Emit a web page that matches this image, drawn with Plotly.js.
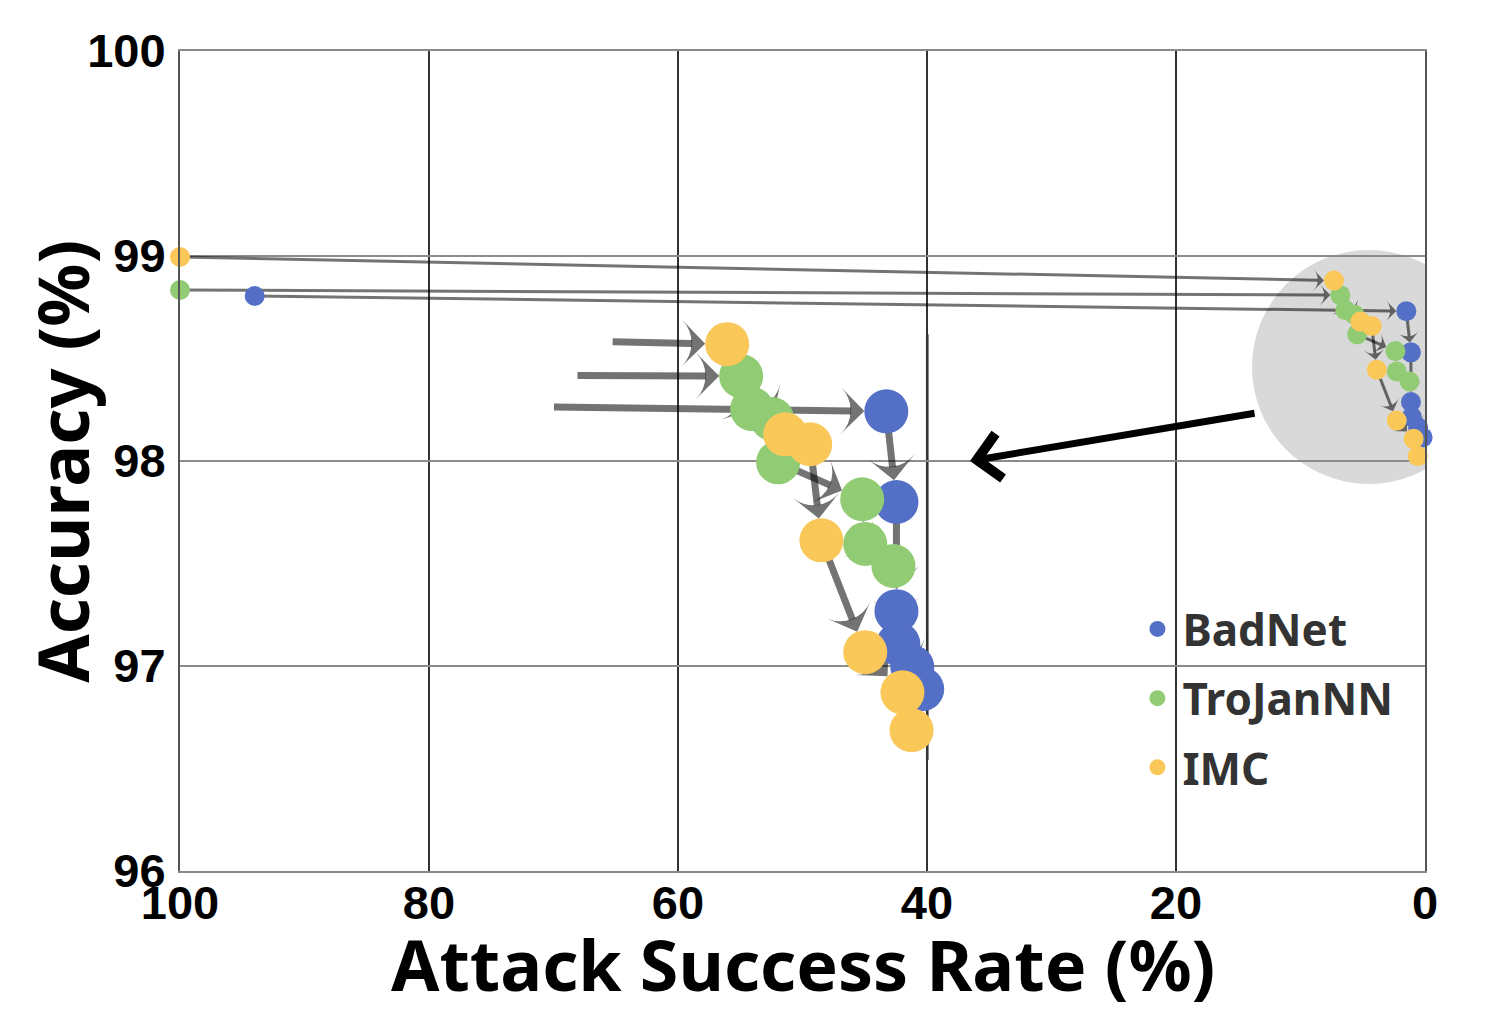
<!DOCTYPE html>
<html>
<head>
<meta charset="utf-8">
<script src="https://cdn.plot.ly/plotly-3.0.1.min.js"></script>
<style>
  body { margin: 0; background: #fff; }
  #graf { width: 1501px; height: 1024px; }
</style>
</head>
<body>
<div id="graf"></div>
<script>
// data: first point = no defense, then each pruning step
const methods = ['BadNet', 'TroJanNN', 'IMC'];
const colors = ['#5470c6', '#91cc75', '#fac858'];

const badnetASR = [94.0, 1.50, 1.13, 1.13, 1.06, 0.55, 0.19];
const badnetAcc = [98.805, 98.731, 98.530, 98.288, 98.215, 98.164, 98.115];

const trojanASR = [100, 6.80, 6.40, 5.67, 5.45, 2.38, 2.27, 1.24];
const trojanAcc = [98.834, 98.809, 98.736, 98.714, 98.618, 98.536, 98.437, 98.388];

const imcASR = [100, 7.31, 5.19, 4.28, 3.87, 2.27, 0.91, 0.58];
const imcAcc = [98.995, 98.880, 98.680, 98.658, 98.445, 98.197, 98.108, 98.024];

const xTicks = [100, 80, 60, 40, 20, 0];
const yTicks = [96, 97, 98, 99, 100];

// magnifier: grey disc around the cluster, crop lens, and where the 2.2x copy sits
const DISC = {asr: 4.5, acc: 98.459, r: 117};
const LENS = {asr: 5.56, acc: 98.43, r: 119};
const ZOOM = 2.2;
const INSET_CENTER = {asr: 52.2, acc: 97.58};
const POINTER = {fromAsr: 13.57, fromAcc: 98.234, toAsr: 36.55, toAcc: 98.0};

const W = 1501, H = 1024;
const M = {l: 180, r: 76, t: 51, b: 153};
const pxX = (W - M.l - M.r) / 100;   // px per % on x
const pxY = (H - M.t - M.b) / 4;     // px per % on y
const ARROW = 'rgba(0,0,0,0.55)';

const series = [
  {asr: badnetASR, acc: badnetAcc},
  {asr: trojanASR, acc: trojanAcc},
  {asr: imcASR, acc: imcAcc}
];

function toInset(p) {
  return [INSET_CENTER.asr + ZOOM * (p[0] - LENS.asr),
          INSET_CENTER.acc + ZOOM * (p[1] - LENS.acc)];
}

// where the segment a->b enters the round crop (a outside, b inside)
function lensEntry(a, b) {
  const ua = (a[0] - LENS.asr) * pxX / LENS.r, va = (a[1] - LENS.acc) * pxY / LENS.r;
  const ub = (b[0] - LENS.asr) * pxX / LENS.r, vb = (b[1] - LENS.acc) * pxY / LENS.r;
  const du = ub - ua, dv = vb - va;
  const A = du * du + dv * dv, B = 2 * (ua * du + va * dv), C = ua * ua + va * va - 1;
  const t = (-B - Math.sqrt(B * B - 4 * A * C)) / (2 * A);
  return [a[0] + t * (b[0] - a[0]), a[1] + t * (b[1] - a[1])];
}

let data = [];

// arrows first so the dots sit on top of them
series.forEach(function(s) {
  data.push({
    x: s.asr, y: s.acc, mode: 'lines+markers', showlegend: false, hoverinfo: 'skip',
    cliponaxis: false,
    line: {color: ARROW, width: 3},
    marker: {symbol: 'arrow-wide', size: 15, angleref: 'previous', standoff: 10, color: ARROW}
  });
});
series.forEach(function(s) {
  let pts = s.asr.map(function(v, i) { return [v, s.acc[i]]; });
  let chain = [lensEntry(pts[0], pts[1])].concat(pts.slice(1)).map(toInset);
  data.push({
    x: chain.map(p => p[0]), y: chain.map(p => p[1]),
    mode: 'lines+markers', showlegend: false, hoverinfo: 'skip',
    line: {color: ARROW, width: 7},
    marker: {symbol: 'arrow-wide', size: 33, angleref: 'previous', standoff: 22, color: ARROW}
  });
});

// dots: small in real position, big in the magnified copy
series.forEach(function(s, k) {
  data.push({
    x: s.asr, y: s.acc, mode: 'markers', name: methods[k], legendgroup: methods[k],
    cliponaxis: false,
    marker: {size: 20, color: colors[k]}
  });
  let big = s.asr.slice(1).map(function(v, i) { return toInset([v, s.acc[i + 1]]); });
  data.push({
    x: big.map(p => p[0]), y: big.map(p => p[1]), mode: 'markers', showlegend: false,
    marker: {size: 44, color: colors[k]}
  });
});

// x = 0 border inside the magnified copy, cut by the lens
let u0 = (0 - LENS.asr) * pxX / LENS.r;
let v0 = Math.sqrt(1 - u0 * u0) * LENS.r / pxY;
let edgeTop = toInset([0, LENS.acc + v0]), edgeBot = toInset([0, LENS.acc - v0]);

let shapes = [
  {type: 'circle', xref: 'x', yref: 'y', layer: 'below',
   x0: DISC.asr - DISC.r / pxX, x1: DISC.asr + DISC.r / pxX,
   y0: DISC.acc - DISC.r / pxY, y1: DISC.acc + DISC.r / pxY,
   fillcolor: '#d9d9d9', line: {width: 0}},
  {type: 'line', xref: 'x', yref: 'y', layer: 'below',
   x0: edgeTop[0], x1: edgeBot[0], y0: edgeTop[1], y1: edgeBot[1],
   line: {color: '#7a7a85', width: 3}}
];

let titleFont = {family: 'Noto Sans, Open Sans', size: 70, weight: 700, color: '#000'};

let annotations = [
  {x: POINTER.toAsr, y: POINTER.toAcc, ax: POINTER.fromAsr, ay: POINTER.fromAcc,
   xref: 'x', yref: 'y', axref: 'x', ayref: 'y', text: '', showarrow: true,
   arrowhead: 4, arrowsize: 1.25, arrowwidth: 7, arrowcolor: '#000'},
  // axis titles
  {text: 'Attack Success Rate (%)', xref: 'paper', yref: 'paper', x: 0.5, y: -0.113,
   xanchor: 'center', yanchor: 'middle', showarrow: false, font: titleFont},
  {text: 'Accuracy (%)', xref: 'paper', yref: 'paper', x: -0.095, y: 0.5, textangle: -90,
   xanchor: 'center', yanchor: 'middle', showarrow: false, font: titleFont}
];

let tickFont = {family: 'Liberation Sans, Arial', size: 47, weight: 700, color: '#000'};

let layout = {
  width: W, height: H,
  margin: M,
  paper_bgcolor: '#fff', plot_bgcolor: '#fff',
  showlegend: true,
  legend: {x: 0.765, y: 0.338, xanchor: 'left', yanchor: 'top', bgcolor: 'rgba(0,0,0,0)',
           font: {family: 'Noto Sans, Open Sans', size: 44, weight: 700, color: '#333'},
           traceorder: 'grouped', tracegroupgap: 9, itemsizing: 'trace', itemwidth: 40},
  xaxis: {range: [100, 0], tickvals: xTicks, ticks: '', ticklen: 0, showgrid: true,
          gridcolor: '#333', gridwidth: 1.5, zeroline: false,
          showline: true, mirror: true, linecolor: '#8a8a8a', linewidth: 2,
          tickfont: tickFont, ticklabelstandoff: -10},
  yaxis: {range: [96, 100], tickvals: yTicks, ticks: '', ticklen: 0, showgrid: true,
          gridcolor: '#8c8c8c', gridwidth: 1.5, zeroline: false,
          showline: true, mirror: true, linecolor: '#555', linewidth: 2,
          tickfont: tickFont, ticklabelstandoff: 3},
  shapes: shapes,
  annotations: annotations
};

Plotly.newPlot(document.getElementById('graf'), data, layout, {staticPlot: true});
</script>
</body>
</html>
